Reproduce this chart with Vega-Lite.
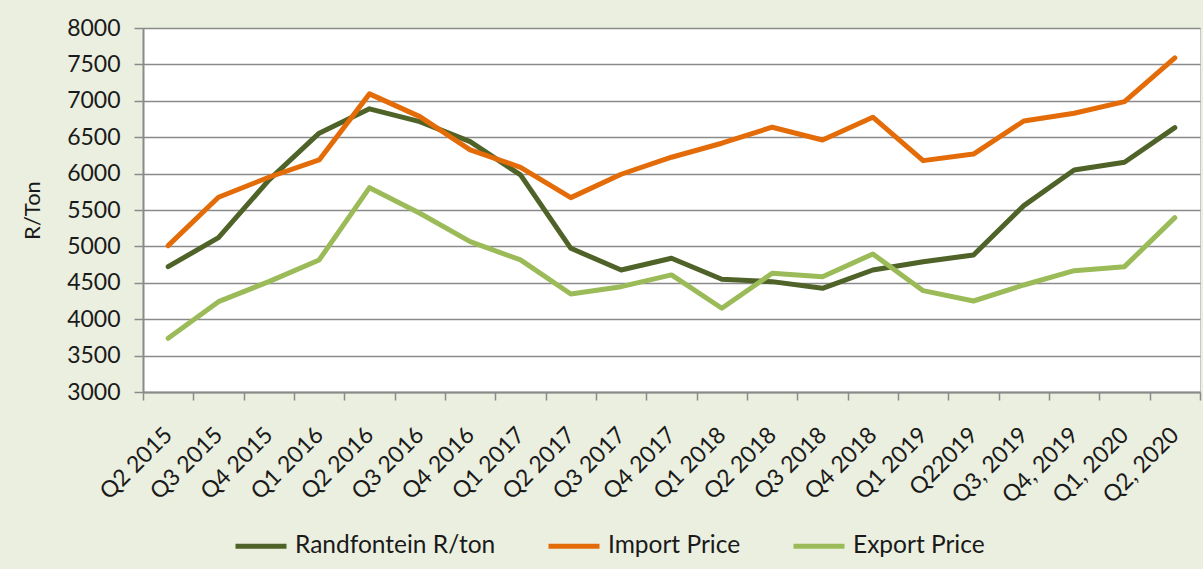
{
  "$schema": "https://vega.github.io/schema/vega-lite/v6.json",
  "width": 1057,
  "height": 364,
  "autosize": {"type": "none"},
  "padding": {"left": 143, "top": 28, "right": 3, "bottom": 177},
  "background": "#EBEFDF",
  "config": {
    "font": "Lato",
    "view": {"fill": "white", "stroke": "#c8c8c8", "strokeWidth": 1}
  },
  "data": {
    "values": [
      {"q": "Q2 2015", "s": "Randfontein R/ton", "v": 4722},
      {"q": "Q3 2015", "s": "Randfontein R/ton", "v": 5120},
      {"q": "Q4 2015", "s": "Randfontein R/ton", "v": 5910},
      {"q": "Q1 2016", "s": "Randfontein R/ton", "v": 6555},
      {"q": "Q2 2016", "s": "Randfontein R/ton", "v": 6890},
      {"q": "Q3 2016", "s": "Randfontein R/ton", "v": 6714},
      {"q": "Q4 2016", "s": "Randfontein R/ton", "v": 6439},
      {"q": "Q1 2017", "s": "Randfontein R/ton", "v": 5982},
      {"q": "Q2 2017", "s": "Randfontein R/ton", "v": 4974},
      {"q": "Q3 2017", "s": "Randfontein R/ton", "v": 4676},
      {"q": "Q4 2017", "s": "Randfontein R/ton", "v": 4837},
      {"q": "Q1 2018", "s": "Randfontein R/ton", "v": 4548},
      {"q": "Q2 2018", "s": "Randfontein R/ton", "v": 4516},
      {"q": "Q3 2018", "s": "Randfontein R/ton", "v": 4424},
      {"q": "Q4 2018", "s": "Randfontein R/ton", "v": 4676},
      {"q": "Q1 2019", "s": "Randfontein R/ton", "v": 4790},
      {"q": "Q22019", "s": "Randfontein R/ton", "v": 4882},
      {"q": "Q3, 2019", "s": "Randfontein R/ton", "v": 5560},
      {"q": "Q4, 2019", "s": "Randfontein R/ton", "v": 6050},
      {"q": "Q1, 2020", "s": "Randfontein R/ton", "v": 6156},
      {"q": "Q2, 2020", "s": "Randfontein R/ton", "v": 6632},
      {"q": "Q2 2015", "s": "Import Price", "v": 5010},
      {"q": "Q3 2015", "s": "Import Price", "v": 5675},
      {"q": "Q4 2015", "s": "Import Price", "v": 5950},
      {"q": "Q1 2016", "s": "Import Price", "v": 6188},
      {"q": "Q2 2016", "s": "Import Price", "v": 7095},
      {"q": "Q3 2016", "s": "Import Price", "v": 6783},
      {"q": "Q4 2016", "s": "Import Price", "v": 6325},
      {"q": "Q1 2017", "s": "Import Price", "v": 6087},
      {"q": "Q2 2017", "s": "Import Price", "v": 5670},
      {"q": "Q3 2017", "s": "Import Price", "v": 5991},
      {"q": "Q4 2017", "s": "Import Price", "v": 6225},
      {"q": "Q1 2018", "s": "Import Price", "v": 6417},
      {"q": "Q2 2018", "s": "Import Price", "v": 6637},
      {"q": "Q3 2018", "s": "Import Price", "v": 6462},
      {"q": "Q4 2018", "s": "Import Price", "v": 6775},
      {"q": "Q1 2019", "s": "Import Price", "v": 6178},
      {"q": "Q22019", "s": "Import Price", "v": 6268},
      {"q": "Q3, 2019", "s": "Import Price", "v": 6723},
      {"q": "Q4, 2019", "s": "Import Price", "v": 6829},
      {"q": "Q1, 2020", "s": "Import Price", "v": 6989},
      {"q": "Q2, 2020", "s": "Import Price", "v": 7590},
      {"q": "Q2 2015", "s": "Export Price", "v": 3738},
      {"q": "Q3 2015", "s": "Export Price", "v": 4241},
      {"q": "Q4 2015", "s": "Export Price", "v": 4516},
      {"q": "Q1 2016", "s": "Export Price", "v": 4814},
      {"q": "Q2 2016", "s": "Export Price", "v": 5807},
      {"q": "Q3 2016", "s": "Export Price", "v": 5455},
      {"q": "Q4 2016", "s": "Export Price", "v": 5065},
      {"q": "Q1 2017", "s": "Export Price", "v": 4814},
      {"q": "Q2 2017", "s": "Export Price", "v": 4346},
      {"q": "Q3 2017", "s": "Export Price", "v": 4447},
      {"q": "Q4 2017", "s": "Export Price", "v": 4608},
      {"q": "Q1 2018", "s": "Export Price", "v": 4150},
      {"q": "Q2 2018", "s": "Export Price", "v": 4631},
      {"q": "Q3 2018", "s": "Export Price", "v": 4584},
      {"q": "Q4 2018", "s": "Export Price", "v": 4896},
      {"q": "Q1 2019", "s": "Export Price", "v": 4392},
      {"q": "Q22019", "s": "Export Price", "v": 4250},
      {"q": "Q3, 2019", "s": "Export Price", "v": 4470},
      {"q": "Q4, 2019", "s": "Export Price", "v": 4667},
      {"q": "Q1, 2020", "s": "Export Price", "v": 4722},
      {"q": "Q2, 2020", "s": "Export Price", "v": 5395}
    ]
  },
  "mark": {"type": "line", "strokeWidth": 5, "strokeJoin": "round", "strokeCap": "round"},
  "encoding": {
    "x": {
      "field": "q",
      "type": "ordinal",
      "sort": null,
      "scale": {"type": "band", "paddingInner": 0, "paddingOuter": 0},
      "axis": {
        "title": null,
        "tickBand": "extent",
        "labelAngle": -45,
        "labelAlign": "right",
        "labelBaseline": "middle",
        "labelFontSize": 23,
        "labelColor": "#1a1a1a",
        "labelPadding": 31,
        "tickSize": 8,
        "tickColor": "#8a8a8a",
        "tickWidth": 1.5,
        "domainColor": "#8a8a8a",
        "domainWidth": 2,
        "grid": false
      }
    },
    "y": {
      "field": "v",
      "type": "quantitative",
      "scale": {"domain": [3000, 8000], "nice": false},
      "axis": {
        "title": "R/Ton",
        "titleFontSize": 22,
        "titleFontWeight": "normal",
        "titleColor": "#1a1a1a",
        "titlePadding": 22,
        "format": "d",
        "values": [3000, 3500, 4000, 4500, 5000, 5500, 6000, 6500, 7000, 7500, 8000],
        "labelFontSize": 23,
        "labelColor": "#1a1a1a",
        "labelPadding": 14,
        "tickSize": 9,
        "tickColor": "#8a8a8a",
        "tickWidth": 1.5,
        "domainColor": "#8a8a8a",
        "domainWidth": 2,
        "gridColor": "#8a8a8a",
        "gridWidth": 1.5
      }
    },
    "color": {
      "field": "s",
      "type": "nominal",
      "scale": {
        "domain": ["Randfontein R/ton", "Import Price", "Export Price"],
        "range": ["#4F6228", "#E36C09", "#9BBB59"]
      },
      "legend": {
        "title": null,
        "orient": "none",
        "direction": "horizontal",
        "legendX": 90,
        "legendY": 490,
        "symbolType": "stroke",
        "symbolSize": 2600,
        "symbolStrokeWidth": 5,
        "labelFontSize": 24.5,
        "labelColor": "#1a1a1a",
        "labelOffset": 6,
        "columnPadding": 42,
        "labelLimit": 400
      }
    }
  }
}
